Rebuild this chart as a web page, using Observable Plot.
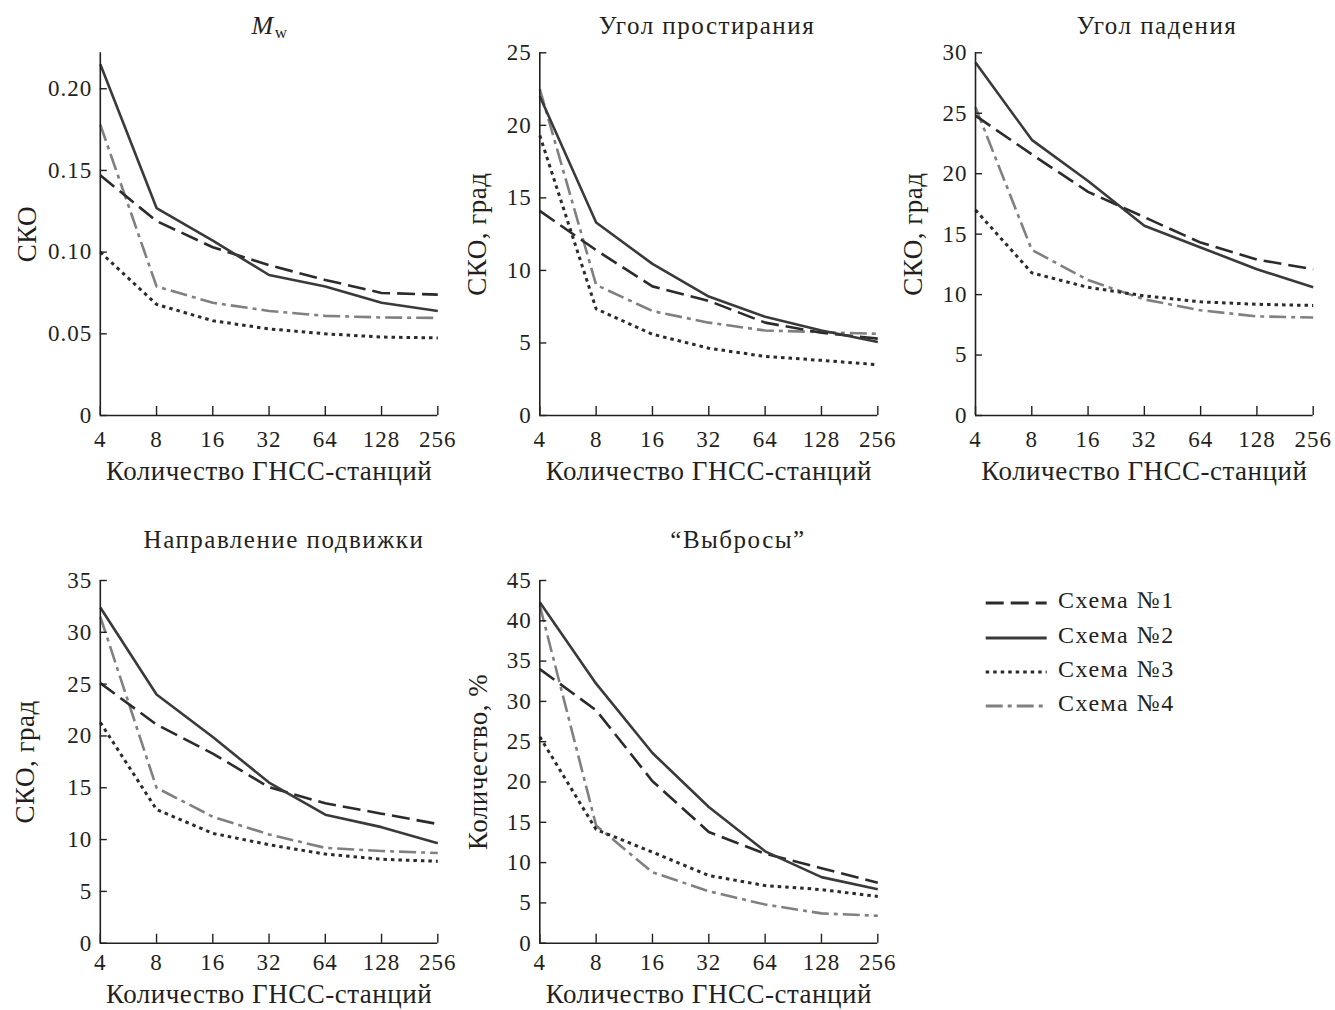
<!DOCTYPE html>
<html><head><meta charset="utf-8">
<script src="https://cdn.jsdelivr.net/npm/d3@7"></script>
<script src="https://cdn.jsdelivr.net/npm/@observablehq/plot@0.6"></script>
<style>
body{margin:0;background:#fff;}
#root{position:relative;width:1335px;height:1010px;font-family:"Liberation Serif","Times New Roman",serif;color:#231f20;overflow:hidden;}
.panel{position:absolute;}
#overlay{position:absolute;left:0;top:0;}
.tk text{letter-spacing:1px;}
.lbl{letter-spacing:0.5px;}
</style></head><body><div id="root"></div>
<script>
// ---- data ----
const stations = [4, 8, 16, 32, 64, 128, 256];
const schemes = ["Схема №1", "Схема №2", "Схема №3", "Схема №4"];
const titles = ["Mw", "Угол простирания", "Угол падения", "Направление подвижки", "“Выбросы”"];
const yLabels = ["СКО", "СКО, град", "СКО, град", "СКО, град", "Количество, %"];
const xLabel = "Количество ГНСС-станций";
const mwTicks = [0, 0.05, 0.10, 0.15, 0.20];
const strikeTicks = [0, 5, 10, 15, 20, 25];
const dipTicks = [0, 5, 10, 15, 20, 25, 30];
const rakeTicks = [0, 5, 10, 15, 20, 25, 30, 35];
const outTicks = [0, 5, 10, 15, 20, 25, 30, 35, 40, 45];

const mw1 = [0.147, 0.119, 0.103, 0.092, 0.083, 0.075, 0.074];
const mw2 = [0.215, 0.127, 0.107, 0.086, 0.079, 0.069, 0.064];
const mw3 = [0.100, 0.068, 0.058, 0.053, 0.050, 0.048, 0.0475];
const mw4 = [0.178, 0.079, 0.069, 0.064, 0.061, 0.060, 0.0597];

const strike1 = [14.1, 11.4, 8.9, 7.9, 6.4, 5.7, 5.3];
const strike2 = [22.0, 13.3, 10.45, 8.2, 6.8, 5.86, 5.06];
const strike3 = [19.3, 7.35, 5.6, 4.64, 4.07, 3.8, 3.5];
const strike4 = [22.5, 9.0, 7.2, 6.4, 5.86, 5.75, 5.63];

const dip1 = [24.8, 21.6, 18.5, 16.4, 14.3, 12.9, 12.1];
const dip2 = [29.2, 22.8, 19.4, 15.7, 13.9, 12.1, 10.6];
const dip3 = [17.0, 11.8, 10.6, 9.9, 9.4, 9.2, 9.1];
const dip4 = [25.5, 13.7, 11.2, 9.6, 8.7, 8.2, 8.1];

const rake1 = [25.1, 21.1, 18.3, 15.05, 13.5, 12.5, 11.5];
const rake2 = [32.4, 24.0, 19.9, 15.5, 12.4, 11.2, 9.65];
const rake3 = [21.3, 12.9, 10.6, 9.5, 8.6, 8.1, 7.9];
const rake4 = [31.5, 15.0, 12.2, 10.5, 9.2, 8.9, 8.7];

const out1 = [34.0, 28.9, 20.1, 13.8, 11.1, 9.3, 7.5];
const out2 = [42.3, 32.2, 23.6, 16.9, 11.4, 8.2, 6.7];
const out3 = [25.6, 14.1, 11.3, 8.4, 7.15, 6.65, 5.8];
const out4 = [41.9, 14.6, 8.8, 6.45, 4.8, 3.7, 3.4];

// ---- styles ----
const ink = "#231f20";
const seriesStyle = [
  {stroke: "#2b2b2b", dash: "18,7", w: 2.6},
  {stroke: "#3a3a3a", dash: null, w: 2.6},
  {stroke: "#2b2b2b", dash: "3.5,4", w: 3},
  {stroke: "#808080", dash: "17,5,4,5", w: 2.6}
];
const drawOrder = [3, 2, 0, 1];
const FONT = "Liberation Serif";

const panels = [
  {i:0, vals:[mw1,mw2,mw3,mw4], ticks:mwTicks, domain:[0,0.222], fmt:d=>d===0?"0":d.toFixed(2),
   left:0, top:0, w:445, h:500, mL:99.8, mR:7.7, mT:52.3, mB:85, yOff:73, xPad:24, xDy:64},
  {i:1, vals:[strike1,strike2,strike3,strike4], ticks:strikeTicks, domain:[0,25], fmt:d=>d,
   left:445, top:0, w:445, h:500, mL:94.3, mR:12.7, mT:52.3, mB:85, yOff:62, xPad:24, xDy:64},
  {i:2, vals:[dip1,dip2,dip3,dip4], ticks:dipTicks, domain:[0,30], fmt:d=>d,
   left:890, top:0, w:445, h:500, mL:85, mR:22.3, mT:52.3, mB:85, yOff:62, xPad:24, xDy:64},
  {i:3, vals:[rake1,rake2,rake3,rake4], ticks:rakeTicks, domain:[0,35], fmt:d=>d,
   left:0, top:520, w:445, h:490, mL:99.8, mR:7.7, mT:60, mB:67.3, yOff:75, xPad:19.5, xDy:60},
  {i:4, vals:[out1,out2,out3,out4], ticks:outTicks, domain:[0,45], fmt:d=>d,
   left:445, top:520, w:445, h:490, mL:94.3, mR:12.7, mT:60, mB:67.3, yOff:61, xPad:19.5, xDy:60}
];

const root = document.getElementById("root");

for (const p of panels) {
  const marks = [];
  for (const k of drawOrder) {
    const rows = stations.map((n, j) => ({n, v: p.vals[k][j], s: schemes[k]}));
    marks.push(Plot.line(rows, {x: "n", y: "v", stroke: seriesStyle[k].stroke, strokeWidth: seriesStyle[k].w,
      strokeDasharray: seriesStyle[k].dash, strokeLinejoin: "miter", strokeLinecap: "butt"}));
  }
  marks.push(Plot.ruleX([4], {stroke: ink, strokeWidth: 1.6}));
  marks.push(Plot.ruleY([0], {stroke: ink, strokeWidth: 1.6}));
  marks.push(Plot.axisX({ticks: stations, tickFormat: d => String(d), tickSize: -9, tickPadding: p.xPad,
    fontSize: 23, fontFamily: FONT, stroke: ink, strokeWidth: 1.4, fill: ink, label: null, className: "tk"}));
  marks.push(Plot.axisY({ticks: p.ticks, tickFormat: p.fmt, tickSize: -7, tickPadding: 15,
    fontSize: 23, fontFamily: FONT, stroke: ink, strokeWidth: 1.4, fill: ink, label: null, className: "tk"}));
  marks.push(Plot.text([yLabels[p.i]], {text: d => d, frameAnchor: "left", dx: -p.yOff, rotate: -90,
    textAnchor: "middle", lineAnchor: "middle",
    fontSize: 27, fontFamily: FONT, fill: ink, className: "lbl"}));
  marks.push(Plot.text([xLabel], {text: d => d, frameAnchor: "bottom", dy: p.xDy,
    fontSize: 27, fontFamily: FONT, fill: ink, className: "lbl"}));
  const svg = Plot.plot({
    width: p.w, height: p.h,
    marginLeft: p.mL, marginRight: p.mR, marginTop: p.mT, marginBottom: p.mB,
    x: {type: "log", base: 2, domain: [4, 256]},
    y: {type: "linear", domain: p.domain},
    style: {overflow: "visible", maxWidth: "none", background: "transparent", fontFamily: FONT, color: ink},
    marks
  });
  svg.classList.add("panel");
  svg.style.left = p.left + "px";
  svg.style.top = p.top + "px";
  root.appendChild(svg);
}

// ---- titles and legend ----
const ov = d3.select(root).append("svg").attr("id", "overlay").attr("width", 1335).attr("height", 1010)
  .style("font-family", FONT).style("pointer-events", "none");

const titlePos = [[270, 34], [707, 34], [1157, 34], [284, 548], [738, 548]];
titles.forEach((t, i) => {
  const tx = ov.append("text").attr("x", titlePos[i][0]).attr("y", titlePos[i][1])
    .attr("text-anchor", "middle").attr("font-size", 25).attr("fill", ink)
    .style("letter-spacing", "1.5px");
  if (i === 0) {
    tx.append("tspan").attr("font-style", "italic").attr("font-size", 26).text("M");
    tx.append("tspan").attr("font-size", 17).attr("dy", 4).text("w");
  } else {
    tx.text(t);
  }
});

const legY = [603, 638, 672, 706];
schemes.forEach((s, k) => {
  ov.append("line").attr("x1", 985.7).attr("x2", 1046.7).attr("y1", legY[k]).attr("y2", legY[k])
    .attr("stroke", seriesStyle[k].stroke).attr("stroke-width", 3)
    .attr("stroke-dasharray", seriesStyle[k].dash);
  ov.append("text").attr("x", 1058).attr("y", legY[k] + 5)
    .attr("font-size", 24).attr("fill", ink).style("letter-spacing", "1.5px").text(s);
});
</script>
</body></html>
